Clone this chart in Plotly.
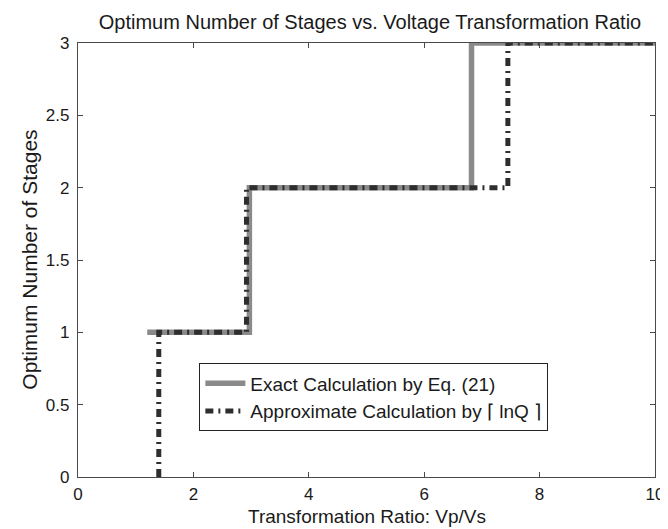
import plotly.graph_objects as go

# Exact calculation (step function)
exact_x = [1.2, 2.97, 2.97, 6.82, 6.82, 10.0]
exact_y = [1, 1, 2, 2, 3, 3]

# Approximate calculation by ceil(ln Q)
approx_x = [1.4, 1.4, 2.92, 2.92, 7.45, 7.45, 10.0]
approx_y = [0, 1, 1, 2, 2, 3, 3]

x_ticks = [0, 2, 4, 6, 8, 10]
y_ticks = [0, 0.5, 1, 1.5, 2, 2.5, 3]
y_ticktext = ["0", "0.5", "1", "1.5", "2", "2.5", "3"]

title_text = "Optimum Number of Stages vs. Voltage Transformation Ratio"
x_label = "Transformation Ratio: Vp/Vs"
y_label = "Optimum Number of Stages"

fig = go.Figure()
fig.add_trace(go.Scatter(
    x=exact_x, y=exact_y, mode="lines",
    name="Exact Calculation by Eq. (21)",
    line=dict(color="#8a8a8a", width=5.5),
))
fig.add_trace(go.Scatter(
    x=approx_x, y=approx_y, mode="lines",
    name="Approximate Calculation by ⌈ lnQ ⌉",
    line=dict(color="#2e2e2e", width=5, dash="8px,5px,2px,5px"),
))

axis_common = dict(
    showgrid=False, zeroline=False, showline=True, mirror="ticks",
    linecolor="#4a4a4a", linewidth=1.3, ticks="inside", ticklen=5,
    tickcolor="#4a4a4a", tickwidth=1.2, tickfont=dict(size=17, color="#1a1a1a"),
)

fig.update_layout(
    width=668, height=529,
    margin=dict(l=70, r=13, t=35, b=60),
    paper_bgcolor="white", plot_bgcolor="white",
    font=dict(family="Liberation Sans, Arial, sans-serif", color="#1a1a1a"),
    title=dict(text=title_text,
               x=362 / 668, xanchor="center", xref="container",
               y=1 - 14 / 529, yanchor="middle", yref="container",
               font=dict(size=20)),
    xaxis=dict(range=[0, 10], tickvals=x_ticks, ticklabelstandoff=1, **axis_common),
    yaxis=dict(range=[0, 3], tickvals=y_ticks, ticktext=y_ticktext,
               ticklabelstandoff=4, **axis_common),
    legend=dict(x=0.21, y=0.262, xanchor="left", yanchor="top",
                bordercolor="#222222", borderwidth=1.2, bgcolor="white",
                font=dict(size=19), tracegroupgap=0, itemwidth=40),
    showlegend=True,
    annotations=[
        dict(text=x_label, xref="paper", yref="paper", x=0.5, y=-39 / 434,
             xanchor="center", yanchor="middle", showarrow=False,
             font=dict(size=19)),
        dict(text=y_label, xref="paper", yref="paper", x=-50 / 585, y=0.5,
             xanchor="center", yanchor="middle", textangle=-90, showarrow=False,
             font=dict(size=21)),
    ],
)

fig.write_html("out.html")
